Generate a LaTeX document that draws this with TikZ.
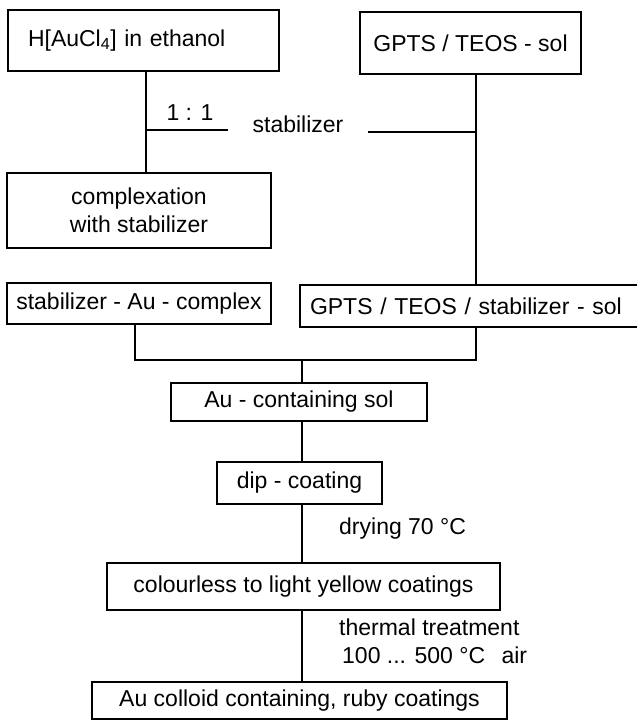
\documentclass[tikz,border=0pt]{standalone}
\usepackage{fontspec}
\setmainfont{Liberation Sans}
\begin{document}
\begin{tikzpicture}[x=1pt,y=-1pt,
  every node/.style={font=\fontsize{23}{27.6}\selectfont},
  box/.style={draw=black, line width=1.2pt, inner sep=0pt, align=center},
  conn/.style={draw=black, line width=1.2pt},
  lbl/.style={inner sep=0pt}]
\useasboundingbox (0,0) rectangle (637,720);
% boxes
\node[box, minimum width=271pt, minimum height=61pt, text width=231pt, align=left] (b1) at (143.5,40.5) {\strut H[AuCl\textsubscript{4}] in ethanol};
\node[box, minimum width=221pt, minimum height=62pt] (b2) at (470.5,43) {GPTS / TEOS - sol};
\node[box, minimum width=264pt, minimum height=75pt] (b3) at (139,210.5) {complexation\\with stabilizer};
\node[box, minimum width=264pt, minimum height=41pt] (b4) at (139,303.5) {stabilizer - Au - complex};
\node[box, minimum width=356pt, minimum height=42pt, inner xsep=10pt, text width=336pt, align=left] (b5) at (478,306) {GPTS / TEOS / stabilizer - sol};
\node[box, minimum width=256pt, minimum height=38pt] (b6) at (299,402) {Au - containing sol};
\node[box, minimum width=165pt, minimum height=42pt] (b7) at (299.5,483) {dip - coating};
\node[box, minimum width=393pt, minimum height=47pt] (b8) at (303.5,586.5) {colourless to light yellow coatings};
\node[box, minimum width=415pt, minimum height=37pt] (b9) at (299.5,700.5) {Au colloid containing, ruby coatings};
% labels
\node[lbl] (t11) at (190,113) {1 : 1};
\node[lbl] (tstab) at (298,124) {stabilizer};
\node[lbl, anchor=west] (tdry) at (339,529) {drying 70 °C};
\node[lbl, anchor=west, align=left] (tth) at (339,641) {thermal treatment\\\hspace*{3pt}100 ... 500 °C\hspace{10pt} air};
% junction coordinates
\coordinate (j1) at (146,130);
\coordinate (s1) at (228,130);
\coordinate (j2) at (476,132);
\coordinate (s2) at (368,132);
\coordinate (ml) at (135,360);
\coordinate (mr) at (476,360);
\coordinate (m) at (302,360);
% connectors
\draw[conn] (b1.south -| j1) -- (b3.north -| j1);
\draw[conn] (j1) -- (s1);
\draw[conn] (b2.south -| j2) -- (b5.north -| j2);
\draw[conn] (s2) -- (j2);
\draw[conn] (b4.south -| ml) -- (ml) -- (mr) -- (b5.south -| mr);
\draw[conn] (m) -- (b6.north -| m);
\draw[conn] (b6.south -| m) -- (b7.north -| m);
\draw[conn] (b7.south -| m) -- (b8.north -| m);
\draw[conn] (b8.south -| m) -- (b9.north -| m);
\end{tikzpicture}
\end{document}
